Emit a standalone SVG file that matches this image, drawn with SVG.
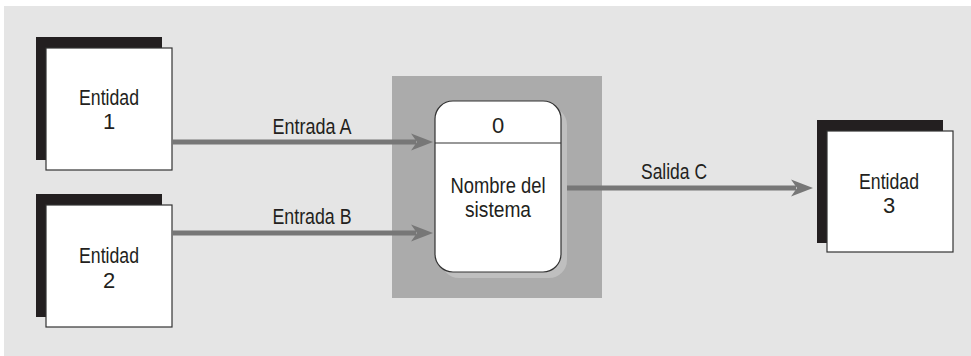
<svg xmlns="http://www.w3.org/2000/svg" width="971" height="356" viewBox="0 0 971 356">
<style>
text{font-family:"Liberation Sans Narrow","Liberation Sans",Arial,sans-serif;font-size:22px;fill:#231f20;text-anchor:middle}
.sh{fill:#231f20}
.box{fill:#fff;stroke:#333;stroke-width:1.2}
.flow{stroke:#777;stroke-width:5;fill:none}
.head{fill:#777}
</style>
<rect x="4" y="6" width="967" height="350" fill="#e5e5e5"/>
<g id="entidad1">
<rect class="sh" x="36" y="37" width="126" height="123"/>
<rect class="box" x="46" y="48" width="126" height="122"/>
<text><tspan x="109" y="105" textLength="60" lengthAdjust="spacingAndGlyphs">Entidad</tspan><tspan x="109" y="129">1</tspan></text>
</g>
<g id="entidad2">
<rect class="sh" x="36" y="194" width="126" height="123"/>
<rect class="box" x="46" y="205" width="126" height="122"/>
<text><tspan x="109" y="263" textLength="60" lengthAdjust="spacingAndGlyphs">Entidad</tspan><tspan x="109" y="288">2</tspan></text>
</g>
<g id="proceso">
<rect x="392" y="76" width="210" height="222" fill="#ababab"/>
<rect x="441" y="107" width="126" height="171" rx="18" fill="#bfbfbf"/>
<rect class="box" x="435" y="101" width="126" height="171" rx="18" stroke-width="1.5"/>
<line x1="435" y1="143" x2="561" y2="143" stroke="#333" stroke-width="1.2"/>
<text x="498" y="133">0</text>
<text><tspan x="498" y="193" textLength="95" lengthAdjust="spacingAndGlyphs">Nombre del</tspan><tspan x="498" y="217" textLength="66" lengthAdjust="spacingAndGlyphs">sistema</tspan></text>
</g>
<g id="entidad3">
<rect class="sh" x="817" y="120" width="126" height="123"/>
<rect class="box" x="827" y="131" width="126" height="121"/>
<text><tspan x="889" y="189" textLength="60" lengthAdjust="spacingAndGlyphs">Entidad</tspan><tspan x="889" y="213">3</tspan></text>
</g>
<g id="conectores">
<line class="flow" x1="172" y1="142" x2="416" y2="142"/>
<path class="head" d="M433,142 L411,133.5 L417,142 L411,150.5 Z"/>
<text x="312" y="134" textLength="79" lengthAdjust="spacingAndGlyphs">Entrada A</text>
<line class="flow" x1="172" y1="233" x2="416" y2="233"/>
<path class="head" d="M433,233 L411,224.5 L417,233 L411,241.5 Z"/>
<text x="312" y="224" textLength="79" lengthAdjust="spacingAndGlyphs">Entrada B</text>
<line class="flow" x1="567" y1="188" x2="796" y2="188"/>
<path class="head" d="M813,188 L791,179.5 L797,188 L791,196.5 Z"/>
<text x="674" y="179" textLength="66" lengthAdjust="spacingAndGlyphs">Salida C</text>
</g>
</svg>
